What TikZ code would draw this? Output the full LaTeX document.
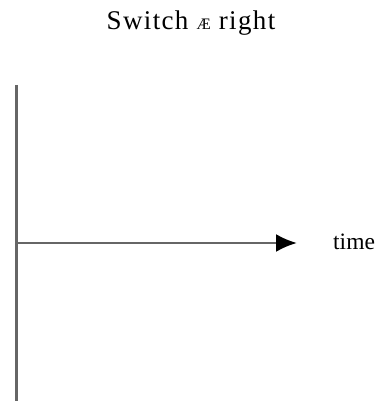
\documentclass[tikz,border=0pt]{standalone}
\usepackage{fontspec}
\setmainfont{Liberation Serif}
\usetikzlibrary{arrows.meta,positioning,calc}

\begin{document}
\begin{tikzpicture}[x=1pt,y=1pt]
        \useasboundingbox (0,0) rectangle (380,401);

        % Title
        \node[anchor=base,inner sep=0pt] (title) at (191, 371) {\fontsize{27}{30}\selectfont\addfontfeatures{LetterSpace=5} Switch {\fontsize{16}{17}\selectfont Æ} right};

        % Axes
        \coordinate (ytop) at (16.5, 316);
        \coordinate (ybot) at (16.5, 0);
        \coordinate (orig) at (16.5, 158);
        \coordinate (tip) at (297, 158);

        % Label
        \node[anchor=base west,inner sep=0pt] (time) at (333, 151) {\fontsize{23.5}{26}\selectfont time};

        % Arcs
        \draw[line width=2.5pt,black!60] (ytop) -- (ybot);
        \draw[line width=2.5pt,black!60,-{Latex[length=21pt,width=18pt,black]}] (orig) -- (tip);
    \end{tikzpicture}
\end{document}
